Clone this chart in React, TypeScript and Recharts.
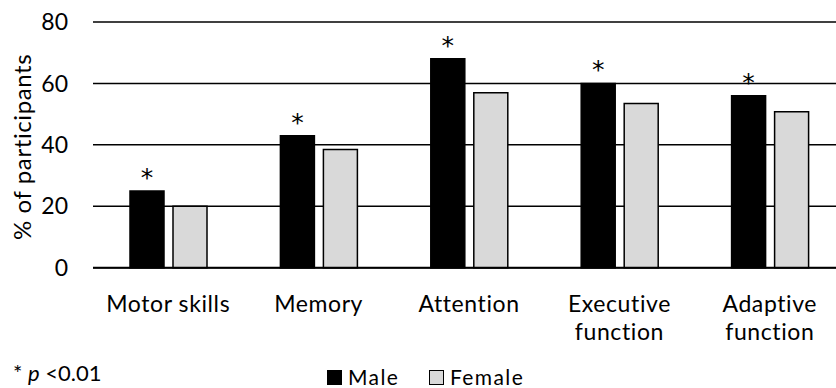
import { BarChart, Bar, XAxis, YAxis, CartesianGrid, Legend, LabelList } from 'recharts';

const categories = ["Motor skills", "Memory", "Attention", "Executive function", "Adaptive function"];
const tickLines = [["Motor skills"], ["Memory"], ["Attention"], ["Executive", "function"], ["Adaptive", "function"]];
const male = [25, 43, 68, 60, 56];
const female = [20, 38.5, 57, 53.5, 50.8];
const yTicks = [0, 20, 40, 60, 80];
const seriesOrder = ["Male", "Female"];

const data = categories.map((name, i) => ({ name, Male: male[i], Female: female[i] }));

const FONT = "Lato, 'Open Sans', sans-serif";

const CategoryTick = (props: any) => {
    const { x, y, index } = props;
    const lines = tickLines[index] || [];
    return (
        <text x={x} y={y} textAnchor="middle" fill="#000" fontSize={23} letterSpacing={0.6} fontFamily={FONT}>
            {lines.map((l, i) => (
                <tspan key={i} x={x} dy={i === 0 ? 44.5 : 28}>{l}</tspan>
            ))}
        </text>
    );
};

// asterisk over the male bars
const Star = (props: any) => {
    const { x, y, width } = props;
    return (
        <text x={x + width / 2} y={y - 5} textAnchor="middle" fill="#000" fontSize={25} fontFamily="'DejaVu Sans', sans-serif">*</text>
    );
};

const YLabel = (props: any) => {
    const { viewBox } = props;
    const cx = 22;
    const cy = viewBox.y + viewBox.height / 2 + 2;
    return (
        <text x={cx} y={cy} transform={`rotate(-90, ${cx}, ${cy})`} textAnchor="middle" dominantBaseline="central" fill="#000" fontSize={24} letterSpacing={0.6} fontFamily={FONT}>
            % of participants
        </text>
    );
};

const FooterLegend = (props: any) => {
    const { payload } = props;
    const pos = [327, 429];
    const items = seriesOrder.map((s) => (payload || []).find((p: any) => p.value === s)).filter(Boolean);
    return (
        <div style={{ position: 'relative', width: 836, height: 30, fontFamily: FONT, color: '#000', lineHeight: '20px' }}>
            <span style={{ position: 'absolute', left: 13, top: 5, fontSize: 22 }}>* <i>p</i> &lt;0.01</span>
            {items.map((p: any, i: number) => (
                <span key={p.value} style={{ position: 'absolute', left: pos[i], top: 9, whiteSpace: 'nowrap', fontSize: 21, letterSpacing: 1.4 }}>
                    <span style={{ display: 'inline-block', width: 13, height: 13, background: p.payload.fill, border: '1.5px solid #000', marginRight: 6 }} />
                    {p.value}
                </span>
            ))}
        </div>
    );
};

export default function App() {
    return (
        <div style={{ position: 'absolute', left: 0, top: 0, width: 836, height: 388, overflow: 'hidden', background: '#fff' }}>
            <BarChart
                width={846}
                height={388}
                data={data}
                margin={{ top: 22, right: 1, left: 0, bottom: 0 }}
                barSize={34}
                barGap={9}
            >
                <CartesianGrid horizontal={true} vertical={false} stroke="#000" strokeWidth={1.5} />
                <XAxis
                    dataKey="name"
                    height={90.3}
                    tickLine={false}
                    tickSize={0}
                    tickMargin={0}
                    interval={0}
                    axisLine={{ stroke: '#000', strokeWidth: 2 }}
                    tick={<CategoryTick />}
                />
                <YAxis
                    width={93}
                    domain={[0, 80]}
                    ticks={yTicks}
                    axisLine={false}
                    tickLine={false}
                    tickSize={20}
                    tickMargin={5}
                    tick={{ fill: '#000', fontSize: 23, fontFamily: FONT }}
                    label={<YLabel />}
                />
                <Legend verticalAlign="bottom" content={<FooterLegend />} />
                <Bar dataKey="Male" fill="#000" stroke="#000" strokeWidth={1.5} isAnimationActive={false}>
                    <LabelList dataKey="Male" content={<Star />} />
                </Bar>
                <Bar dataKey="Female" fill="#d9d9d9" stroke="#000" strokeWidth={1.5} isAnimationActive={false} />
            </BarChart>
        </div>
    );
}
